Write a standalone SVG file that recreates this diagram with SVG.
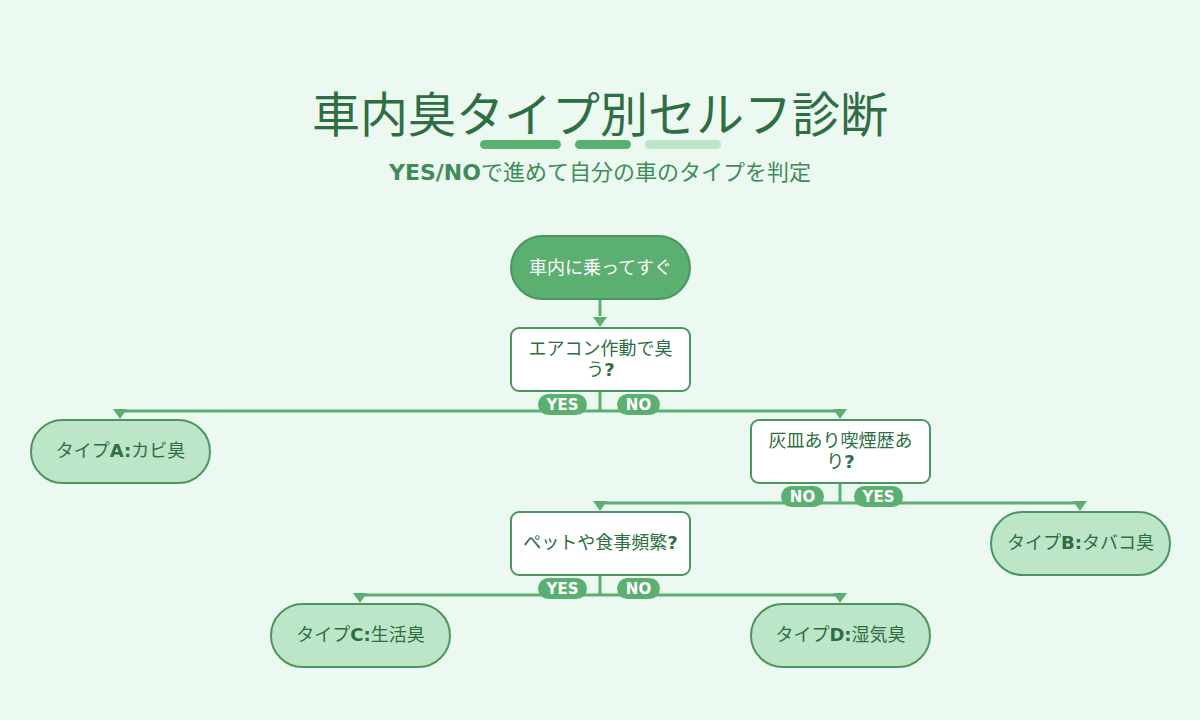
<svg xmlns="http://www.w3.org/2000/svg" width="1200" height="720" viewBox="0 0 1200 720">
<defs>
<style>
.bg{fill:#ebf9f1}
.t{font-family:"DejaVu Sans","Noto Sans CJK JP",sans-serif;text-anchor:middle}
.b{font-weight:bold}
.title{font-size:48px;fill:#2e6e42}
.sub{font-size:22px;fill:#3f8c58}
.nt{font-size:18px;fill:#2e6e42}
.start{fill:#5bb071;stroke:#4a9660;stroke-width:2}
.dec{fill:#ffffff;stroke:#4a9660;stroke-width:2}
.res{fill:#bde6c9;stroke:#4a9660;stroke-width:2}
.ln{stroke:#5bb071;stroke-width:3;fill:none}
.lp{fill:#5bb071}
.lt{font-size:15px;fill:#ffffff;font-weight:bold}
.ah{fill:#5bb071}
</style>
</defs>
<rect class="bg" x="0" y="0" width="1200" height="720"/>
<g id="header">
<text class="t title" x="600" y="132">車内臭タイプ別セルフ診断</text>
<rect x="480" y="140" width="81" height="9" rx="4.5" fill="#5bb071"/>
<rect x="575" y="140" width="56" height="9" rx="4.5" fill="#5bb071"/>
<rect x="645" y="140" width="76" height="9" rx="4.5" fill="#bde6c9"/>
<text class="t sub" x="600" y="180"><tspan class="b">YES/NO</tspan>で進めて自分の車のタイプを判定</text>
</g>
<g id="connectors">
<line class="ln" x1="600" y1="299" x2="600" y2="316"/>
<path class="ah" d="M593,317 L607,317 L600,327 Z"/>
<path class="ln" d="M600,391 V411 M120,411 H840"/>
<path class="ah" d="M113,409 L127,409 L120,419 Z"/>
<path class="ah" d="M833,409 L847,409 L840,419 Z"/>
<path class="ln" d="M840,483 V503 M600,503 H1080"/>
<path class="ah" d="M593,501 L607,501 L600,511 Z"/>
<path class="ah" d="M1073,501 L1087,501 L1080,511 Z"/>
<path class="ln" d="M600,575 V595 M360,595 H840"/>
<path class="ah" d="M353,593 L367,593 L360,603 Z"/>
<path class="ah" d="M833,593 L847,593 L840,603 Z"/>
<g id="labels">
<rect class="lp" x="538" y="394" width="49" height="21" rx="10.5"/>
<text class="t lt" x="562.5" y="410">YES</text>
<rect class="lp" x="617" y="394" width="43" height="21" rx="10.5"/>
<text class="t lt" x="638.5" y="410">NO</text>
<rect class="lp" x="781" y="486" width="43" height="21" rx="10.5"/>
<text class="t lt" x="802.5" y="502">NO</text>
<rect class="lp" x="854" y="486" width="49" height="21" rx="10.5"/>
<text class="t lt" x="878.5" y="502">YES</text>
<rect class="lp" x="538" y="578" width="49" height="21" rx="10.5"/>
<text class="t lt" x="562.5" y="594">YES</text>
<rect class="lp" x="617" y="578" width="43" height="21" rx="10.5"/>
<text class="t lt" x="638.5" y="594">NO</text>
</g>
</g>
<g id="start">
<rect class="start" x="511" y="236" width="179" height="63" rx="31.5"/>
<text class="t nt" x="600.5" y="274" style="fill:#ffffff">車内に乗ってすぐ</text>
</g>
<g id="q1">
<rect class="dec" x="511" y="328" width="179" height="63" rx="8"/>
<text class="t nt" x="600.5" y="355">エアコン作動で臭</text>
<text class="t nt" x="600.5" y="376">う<tspan class="b">?</tspan></text>
</g>
<g id="typeA">
<rect class="res" x="31" y="420" width="179" height="63" rx="31.5"/>
<text class="t nt" x="120.5" y="457">タイプ<tspan class="b">A:</tspan>カビ臭</text>
</g>
<g id="q2">
<rect class="dec" x="751" y="420" width="179" height="63" rx="8"/>
<text class="t nt" x="840.5" y="447">灰皿あり喫煙歴あ</text>
<text class="t nt" x="840.5" y="468">り<tspan class="b">?</tspan></text>
</g>
<g id="q3">
<rect class="dec" x="511" y="512" width="179" height="63" rx="8"/>
<text class="t nt" x="600.5" y="549">ペットや食事頻繁<tspan class="b">?</tspan></text>
</g>
<g id="typeB">
<rect class="res" x="991" y="512" width="179" height="63" rx="31.5"/>
<text class="t nt" x="1080.5" y="549">タイプ<tspan class="b">B:</tspan>タバコ臭</text>
</g>
<g id="typeC">
<rect class="res" x="271" y="604" width="179" height="63" rx="31.5"/>
<text class="t nt" x="360.5" y="641">タイプ<tspan class="b">C:</tspan>生活臭</text>
</g>
<g id="typeD">
<rect class="res" x="751" y="604" width="179" height="63" rx="31.5"/>
<text class="t nt" x="840.5" y="641">タイプ<tspan class="b">D:</tspan>湿気臭</text>
</g>
</svg>
